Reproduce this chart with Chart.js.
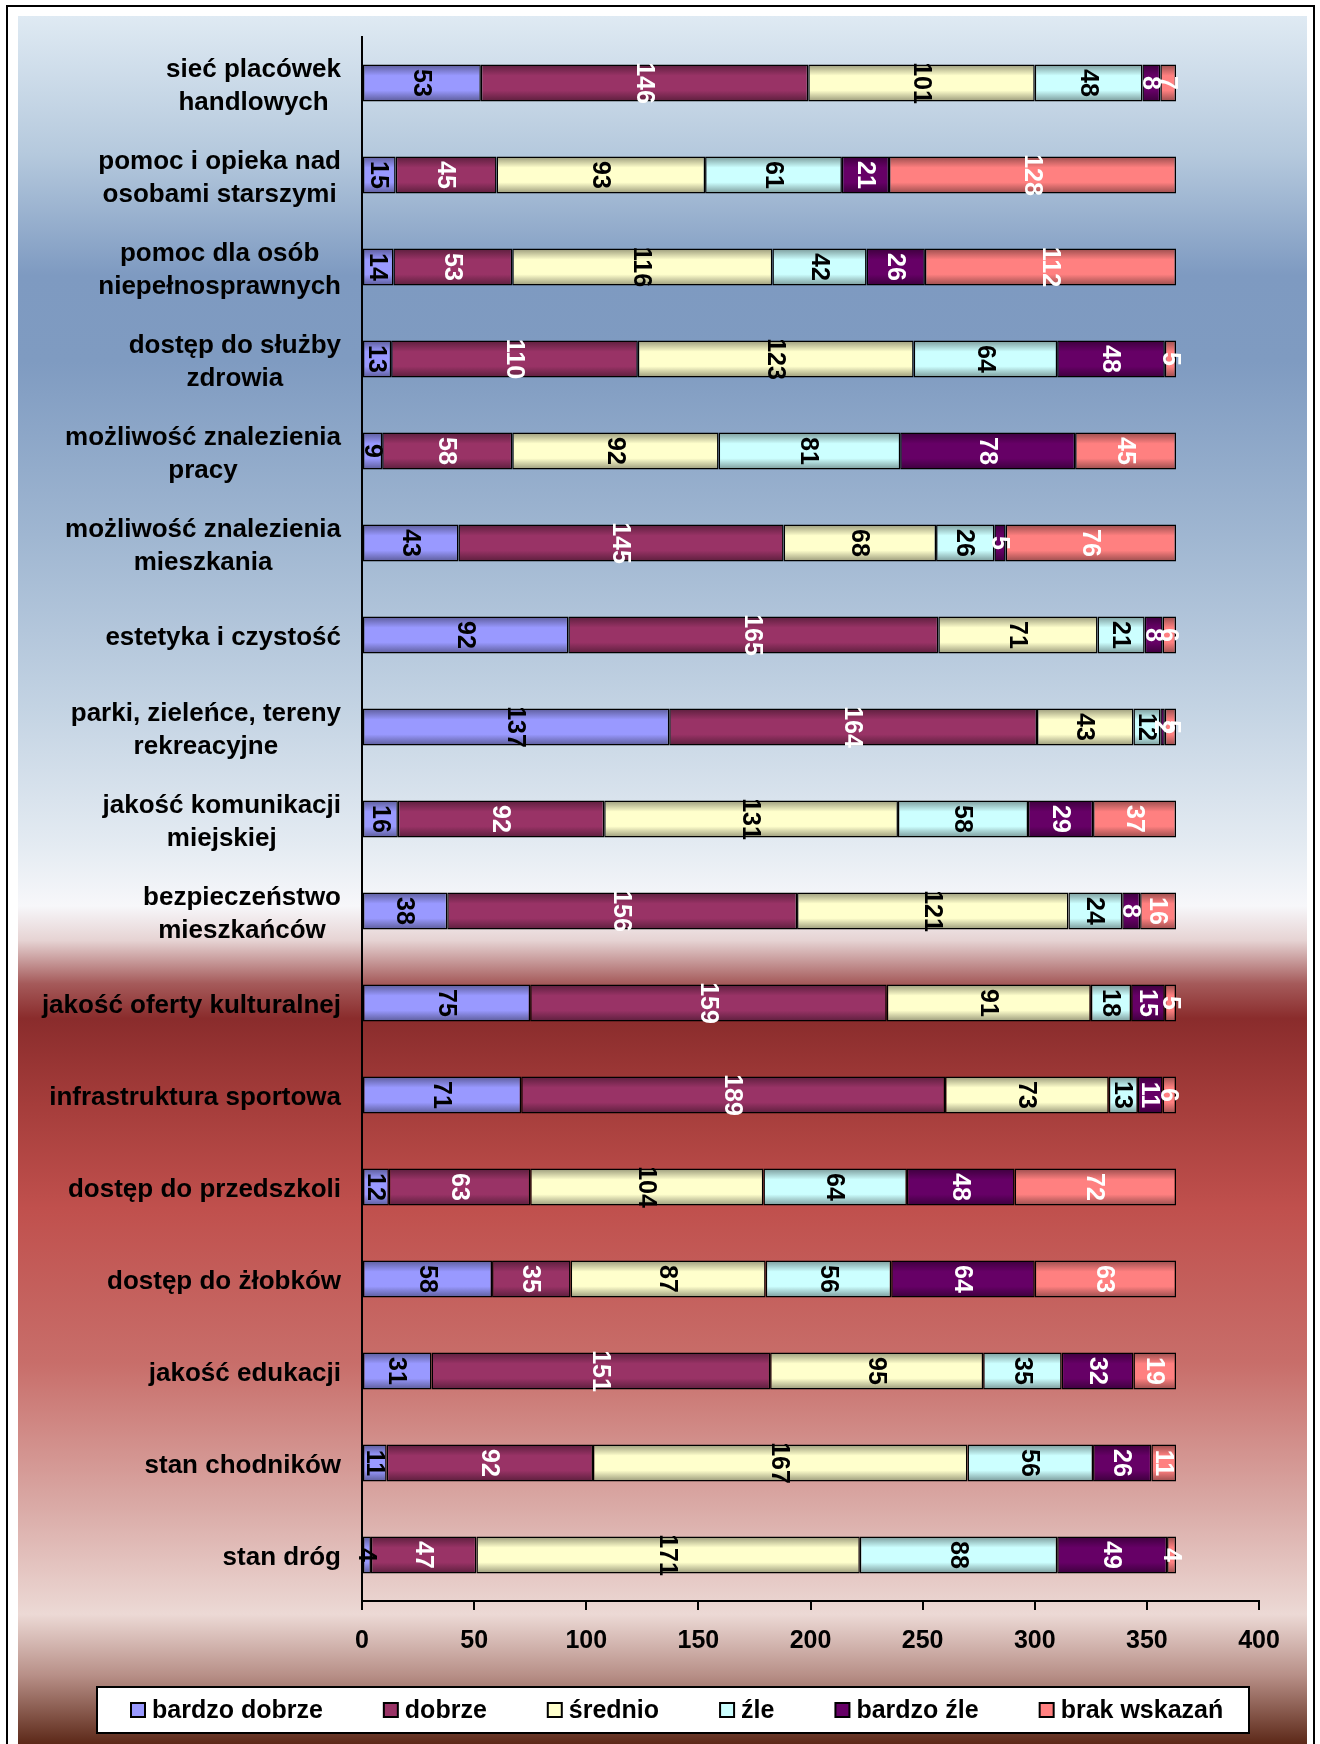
<!DOCTYPE html>
<html>
<head>
<meta charset="utf-8">
<script src="https://cdn.jsdelivr.net/npm/chart.js@4.4.1/dist/chart.umd.min.js"></script>
<style>
  html, body { margin: 0; padding: 0; width: 1320px; height: 1744px; overflow: hidden; background: #ffffff; }
  #frame { position: absolute; left: 6px; top: 5px; width: 1309px; height: 1800px; border: 2px solid #000; box-sizing: border-box; }
  #panel { position: absolute; left: 18px; top: 16px; width: 1289px; height: 1728px;
    background: linear-gradient(to bottom,
      #dfeaf3 0%, #b5c9dd 8%, #7e9ac1 15%, #7f9bc1 20%, #9fb6d1 30%, #c3d3e3 40%, #e4ebf2 48%, #f7f7fa 51.5%,
      #e6d3d3 53.5%, #a55a5a 56%, #8a2c2c 58%, #a53d3b 63%, #c0504d 69%, #c86e6a 78%, #d9a8a4 86%, #ecd9d5 92.5%,
      #b89088 96%, #5c2818 100%); }
  #c { position: absolute; left: 0; top: 0; }
</style>
</head>
<body>
<div id="frame"></div>
<div id="panel"></div>
<canvas id="c" width="1320" height="1744"></canvas>
<script>
// ---- DATA ----
const categories = [
  ['sieć placówek', 'handlowych'],
  ['pomoc i opieka nad', 'osobami starszymi'],
  ['pomoc dla osób', 'niepełnosprawnych'],
  ['dostęp do służby', 'zdrowia'],
  ['możliwość znalezienia', 'pracy'],
  ['możliwość znalezienia', 'mieszkania'],
  'estetyka i czystość',
  ['parki, zieleńce, tereny', 'rekreacyjne'],
  ['jakość komunikacji', 'miejskiej'],
  ['bezpieczeństwo', 'mieszkańców'],
  'jakość oferty kulturalnej',
  'infrastruktura sportowa',
  'dostęp do przedszkoli',
  'dostęp do żłobków',
  'jakość edukacji',
  'stan chodników',
  'stan dróg'
];
const seriesNames = ['bardzo dobrze', 'dobrze', 'średnio', 'źle', 'bardzo źle', 'brak wskazań'];
const bardzoDobrze = [53, 15, 14, 13, 9, 43, 92, 137, 16, 38, 75, 71, 12, 58, 31, 11, 4];
const dobrze       = [146, 45, 53, 110, 58, 145, 165, 164, 92, 156, 159, 189, 63, 35, 151, 92, 47];
const srednio      = [101, 93, 116, 123, 92, 68, 71, 43, 131, 121, 91, 73, 104, 87, 95, 167, 171];
const zle          = [48, 61, 42, 64, 81, 26, 21, 12, 58, 24, 18, 13, 64, 56, 35, 56, 88];
const bardzoZle    = [8, 21, 26, 48, 78, 5, 8, 2, 29, 8, 15, 11, 48, 64, 32, 26, 49];
const brakWskazan  = [7, 128, 112, 5, 45, 76, 6, 5, 37, 16, 5, 6, 72, 63, 19, 11, 4];
const xTickMin = 0, xTickMax = 400, xTickStep = 50;

// ---- STYLE ----
const seriesColors = ['#9999ff', '#993366', '#ffffcc', '#ccffff', '#660066', '#ff8080'];
const labelColors  = ['#000000', '#ffffff', '#000000', '#000000', '#ffffff', '#ffffff'];
const FONT = "'Liberation Sans', Arial, sans-serif";
const FS = 25;
const CAT_FS = 26;
const BAR_PCT = 0.5, CAT_PCT = 0.8;

function shade(hex, f) {
  const n = parseInt(hex.slice(1), 16);
  const r = Math.round(((n >> 16) & 255) * f), g = Math.round(((n >> 8) & 255) * f), b = Math.round((n & 255) * f);
  return 'rgb(' + r + ',' + g + ',' + b + ')';
}

function gradientFor(color) {
  return function (ctx) {
    const chart = ctx.chart;
    const ys = chart.scales && chart.scales.y;
    if (!chart.chartArea || !ys || ctx.dataIndex === undefined) return color;
    const yc = ys.getPixelForValue(ctx.dataIndex);
    const band = Math.abs(ys.getPixelForValue(1) - ys.getPixelForValue(0));
    const h = band * BAR_PCT * CAT_PCT;
    const g = chart.ctx.createLinearGradient(0, yc - h / 2, 0, yc + h / 2);
    g.addColorStop(0, shade(color, 0.6));
    g.addColorStop(0.3, color);
    g.addColorStop(0.7, color);
    g.addColorStop(1, shade(color, 0.6));
    return g;
  };
}

const seriesData = [bardzoDobrze, dobrze, srednio, zle, bardzoZle, brakWskazan];
const datasets = seriesData.map((d, i) => ({
  label: seriesNames[i],
  data: d,
  backgroundColor: gradientFor(seriesColors[i]),
  borderColor: '#000000',
  borderWidth: 1.5,
  borderSkipped: false,
  barPercentage: BAR_PCT,
  categoryPercentage: CAT_PCT
}));

// data labels inside each segment (rotated)
const valueLabels = {
  id: 'valueLabels',
  afterDatasetsDraw(chart) {
    const ctx = chart.ctx;
    ctx.save();
    ctx.font = 'bold ' + FS + 'px ' + FONT;
    ctx.textAlign = 'center';
    ctx.textBaseline = 'middle';
    chart.data.datasets.forEach((ds, di) => {
      const meta = chart.getDatasetMeta(di);
      meta.data.forEach((el, i) => {
        const v = ds.data[i];
        if (!v) return;
        const cx = (el.x + el.base) / 2;
        ctx.save();
        ctx.translate(cx, el.y);
        ctx.rotate(Math.PI / 2);
        ctx.fillStyle = labelColors[di];
        ctx.fillText(String(v), 0, 1);
        ctx.restore();
      });
    });
    ctx.restore();
  }
};

// category labels: block right-aligned to axis, lines centered within the block
const categoryLabels = {
  id: 'categoryLabels',
  afterDraw(chart) {
    const ctx = chart.ctx;
    const ys = chart.scales.y;
    const right = chart.chartArea.left - 21;
    const lh = 33;
    ctx.save();
    ctx.font = 'bold ' + CAT_FS + 'px ' + FONT;
    ctx.fillStyle = '#000';
    ctx.textAlign = 'center';
    ctx.textBaseline = 'middle';
    chart.data.labels.forEach((lab, i) => {
      const lines = Array.isArray(lab) ? lab : [lab];
      const w = Math.max(...lines.map(l => ctx.measureText(l).width));
      const cx = right - w / 2;
      const yc = ys.getPixelForValue(i) + 3;
      lines.forEach((l, k) => {
        ctx.fillText(l, cx, yc + (k - (lines.length - 1) / 2) * lh);
      });
    });
    ctx.restore();
  }
};

// legend with box
const boxLegend = {
  id: 'boxLegend',
  afterDraw(chart) {
    const ctx = chart.ctx;
    const box = { l: 97, t: 1687, r: 1249, b: 1733 };
    ctx.save();
    ctx.fillStyle = '#ffffff';
    ctx.fillRect(box.l, box.t, box.r - box.l, box.b - box.t);
    ctx.lineWidth = 2;
    ctx.strokeStyle = '#000';
    ctx.strokeRect(box.l, box.t, box.r - box.l, box.b - box.t);
    ctx.font = 'bold ' + FS + 'px ' + FONT;
    ctx.textBaseline = 'middle';
    ctx.textAlign = 'left';
    const yc = (box.t + box.b) / 2;
    let x = 131;
    const sq = 14, gapText = 7, gapItem = 61;
    chart.data.datasets.forEach((ds, i) => {
      ctx.fillStyle = seriesColors[i];
      ctx.fillRect(x, yc - sq / 2, sq, sq);
      ctx.lineWidth = 2;
      ctx.strokeStyle = '#000';
      ctx.strokeRect(x, yc - sq / 2, sq, sq);
      ctx.fillStyle = '#000';
      const tx = x + sq + gapText;
      ctx.fillText(ds.label, tx, yc + 1);
      x = tx + ctx.measureText(ds.label).width + gapItem;
    });
    ctx.restore();
  }
};

Chart.defaults.font.family = FONT;
Chart.defaults.font.size = FS;
Chart.defaults.font.weight = 'bold';
Chart.defaults.color = '#000';

new Chart(document.getElementById('c'), {
  type: 'bar',
  data: { labels: categories, datasets: datasets },
  options: {
    indexAxis: 'y',
    responsive: false,
    animation: false,
    layout: { padding: { left: 18, top: 37, right: 61, bottom: 0 } },
    plugins: { legend: { display: false }, tooltip: { enabled: false } },
    scales: {
      x: {
        stacked: true,
        min: xTickMin,
        max: xTickMax,
        ticks: { stepSize: xTickStep, padding: 16, font: { size: FS, weight: 'bold' }, color: '#000' },
        grid: { drawOnChartArea: false, drawTicks: true, tickLength: 9, color: '#000', lineWidth: 2 },
        border: { display: true, color: '#000', width: 2 },
        afterFit(scale) { scale.height = 143; }
      },
      y: {
        stacked: true,
        ticks: { display: false },
        grid: { display: false, drawTicks: false },
        border: { display: true, color: '#000', width: 2 },
        afterFit(scale) { scale.width = 344; }
      }
    }
  },
  plugins: [valueLabels, categoryLabels, boxLegend]
});
</script>
</body>
</html>
